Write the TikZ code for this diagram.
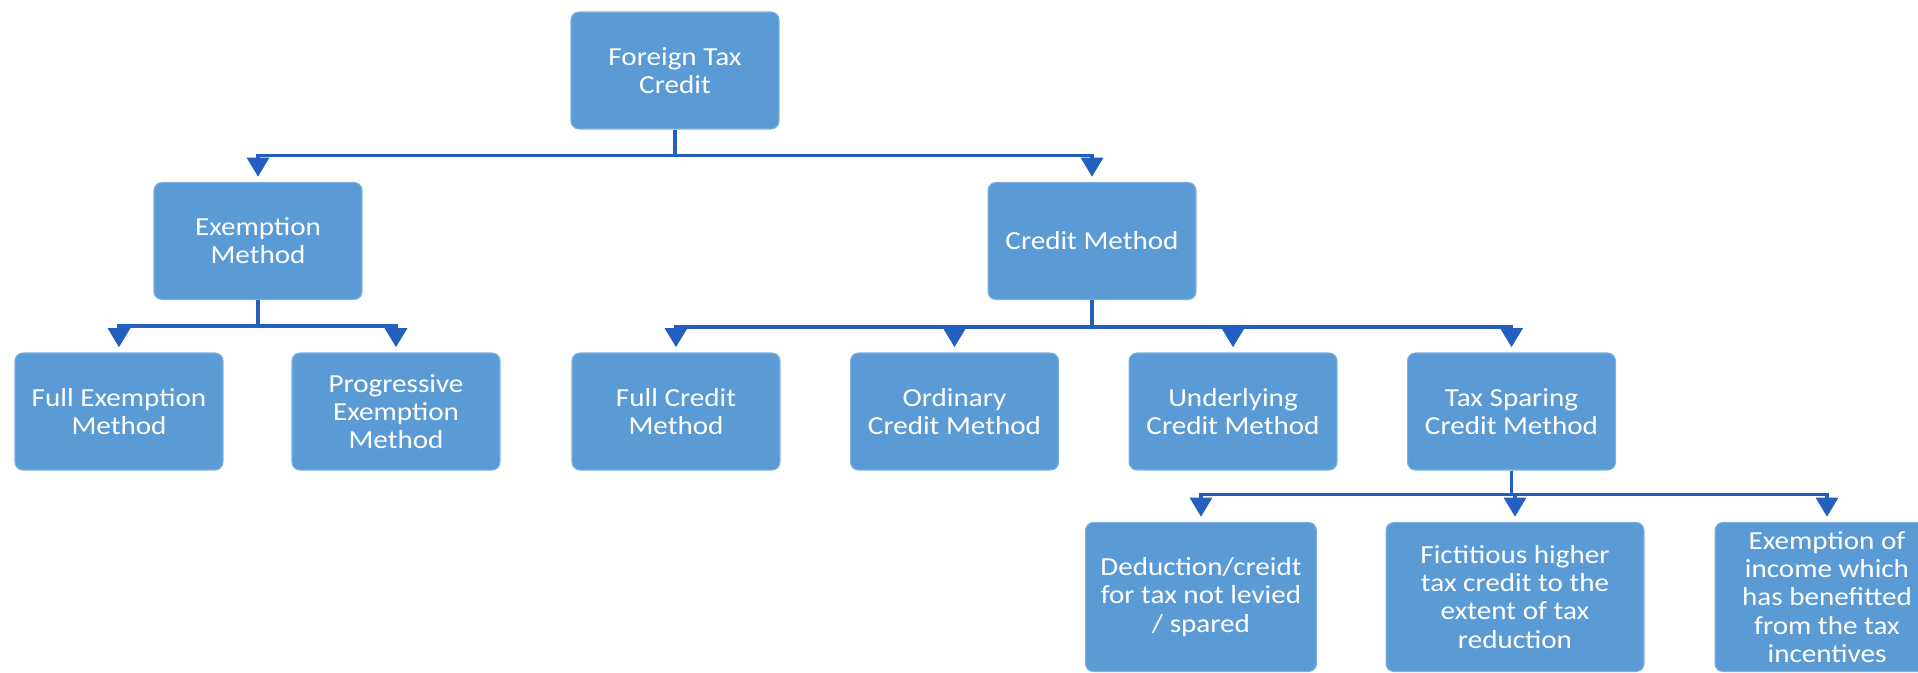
\documentclass[tikz,border=0pt]{standalone}
\usepackage{fontspec}
\setmainfont{Carlito}[FakeStretch=1.12]
\usetikzlibrary{arrows.meta}
\definecolor{BoxBlue}{RGB}{91,155,213}
\definecolor{LinkBlue}{RGB}{35,95,190}

\begin{document}
\begin{tikzpicture}[x=0.02cm, y=0.02cm]
        \tikzstyle{box} = [rectangle, fill=BoxBlue, draw=BoxBlue!80!white, line width=0.6pt,
          rounded corners=4.5pt, minimum width=4.16cm, minimum height=2.34cm, inner sep=1pt,
          align=center, text=white, font=\fontsize{14.8}{16}\selectfont]
        \tikzstyle{link} = [draw=LinkBlue, line width=1.8pt,
          -{Triangle[width=0.44cm, length=0.38cm]}, shorten >=3pt]
        \useasboundingbox (0,0) rectangle (1918,673);

        % top levels
        \node[box] (root) at (675, 602.5) {Foreign Tax\\Credit};
        \node[box] (exm) at (258, 432) {Exemption\\Method};
        \node[box] (crm) at (1092, 432) {Credit Method};

        % exemption side
        \node[box] (fem) at (119, 261.5) {Full Exemption\\Method};
        \node[box] (pem) at (396, 261.5) {Progressive\\Exemption\\Method};

        % credit side
        \foreach \name/\txt [count=\i] in {fcm/{Full Credit\\Method}, ocm/{Ordinary\\Credit Method},
            ucm/{Underlying\\Credit Method}, tsm/{Tax Sparing\\Credit Method}}
          \node[box] (\name) at (676+278.5*\i-278.5, 261.5) {\txt};

        % tax sparing
        \node[box, minimum width=4.62cm, minimum height=2.98cm] (ded) at (1201, 76)
          {Deduction/creidt\\for tax not levied\\/ spared};
        \node[box, minimum width=5.16cm, minimum height=2.98cm] (fic) at (1515, 76)
          {Fictitious higher\\tax credit to the\\extent of tax\\reduction};
        \node[box, minimum width=4.48cm, minimum height=2.98cm] (exi) at (1827, 76)
          {Exemption of\\income which\\has benefitted\\from the tax\\incentives};

        \foreach \kid in {exm,crm}
          \draw[link] (root.south) -- ++(0,-26) -| (\kid.north);
        \foreach \kid in {fem,pem}
          \draw[link] (exm.south) -- ++(0,-26) -| (\kid.north);
        \foreach \kid in {fcm,ocm,ucm,tsm}
          \draw[link] (crm.south) -- ++(0,-27) -| (\kid.north);
        \foreach \kid in {ded,fic,exi}
          \draw[link] (tsm.south) -- ++(0,-24) -| (\kid.north);
      \end{tikzpicture}
\end{document}
